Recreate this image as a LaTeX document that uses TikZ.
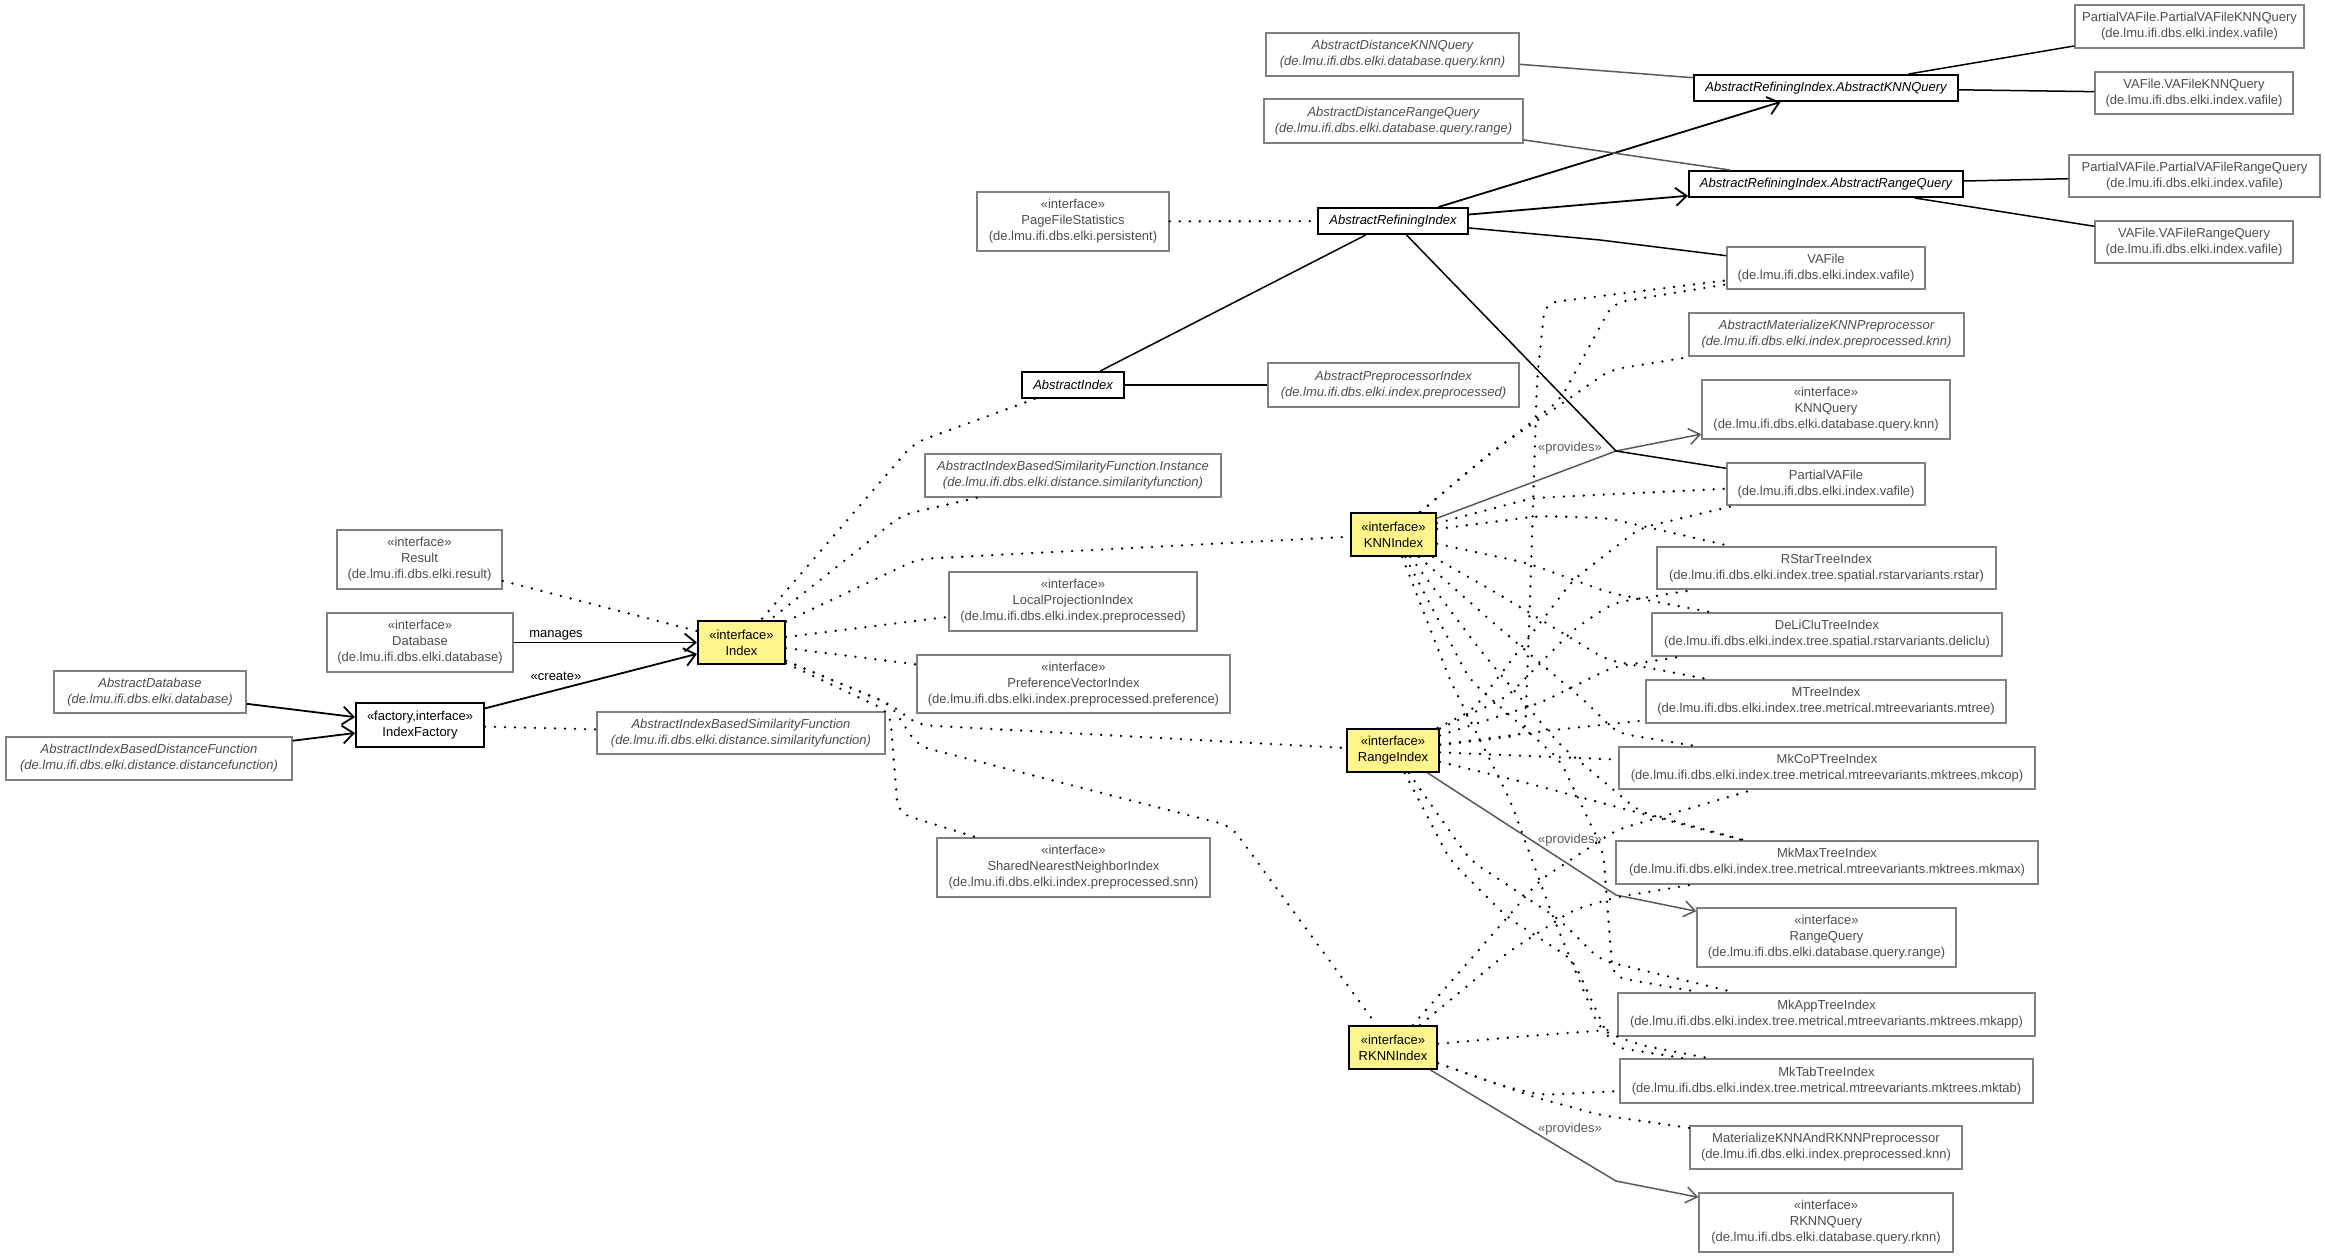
\documentclass[tikz,border=0pt]{standalone}
\usepackage{fontspec}
\setmainfont{Liberation Sans}
\usetikzlibrary{arrows.meta}
\definecolor{ifacefill}{RGB}{255,245,140}
\tikzset{
  cls/.style={draw=black!50, line width=1.5pt, text=black!70, align=center, inner sep=0pt, font=\fontsize{13}{16}\selectfont},
  abscls/.style={cls, font=\fontsize{13}{16}\selectfont\itshape},
  maincls/.style={cls, draw=black, line width=2pt, text=black},
  absmain/.style={maincls, font=\fontsize{13}{16}\selectfont\itshape},
  iface/.style={maincls, fill=ifacefill},
  real/.style={line width=2.6pt, line cap=round, dash pattern=on 0pt off 10pt, rounded corners=12pt},
  assoc/.style={line width=1.8pt, -{Straight Barb[length=11pt,width=18pt]}},
  prov/.style={line width=1.5pt, draw=black!65, -{Straight Barb[length=11pt,width=16pt]}},
  gen/.style={line width=1.5pt},
  gengray/.style={gen, draw=black!65},
  lbl/.style={font=\fontsize{13}{16}\selectfont, inner sep=1pt},
}

\begin{document}
\begin{tikzpicture}[x=1pt, y=-1pt]
  \useasboundingbox (0,0) rectangle (2325,1257);

  % left part
  \node [cls, minimum width=165pt, minimum height=59pt] (result) at (419.5,559.5) {«interface»\\Result\\(de.lmu.ifi.dbs.elki.result)};
  \node [cls, minimum width=186pt, minimum height=59pt] (database) at (420,642.5) {«interface»\\Database\\(de.lmu.ifi.dbs.elki.database)};
  \node [abscls, minimum width=192pt, minimum height=42pt] (absdatabase) at (150,692) {AbstractDatabase\\(de.lmu.ifi.dbs.elki.database)};
  \node [abscls, minimum width=286pt, minimum height=43pt] (idxdistfn) at (149,758.5) {AbstractIndexBasedDistanceFunction\\(de.lmu.ifi.dbs.elki.distance.distancefunction)};
  \node [maincls, minimum width=128pt, minimum height=44pt] (idxfactory) at (420,725) {«factory,interface»\\IndexFactory};
  \node [abscls, minimum width=288pt, minimum height=42pt] (idxsimfn) at (741,733) {AbstractIndexBasedSimilarityFunction\\(de.lmu.ifi.dbs.elki.distance.similarityfunction)};
  \node [iface, minimum width=87pt, minimum height=43pt] (index) at (741.5,642.5) {«interface»\\Index};

  % middle column
  \node [cls, minimum width=192pt, minimum height=59pt] (pagestats) at (1073,221.5) {«interface»\\PageFileStatistics\\(de.lmu.ifi.dbs.elki.persistent)};
  \node [absmain, minimum width=102pt, minimum height=26pt] (absindex) at (1073,385) {AbstractIndex};
  \node [abscls, minimum width=296pt, minimum height=43pt] (simfninst) at (1073,475.5) {AbstractIndexBasedSimilarityFunction.Instance\\(de.lmu.ifi.dbs.elki.distance.similarityfunction)};
  \node [cls, minimum width=248pt, minimum height=59pt] (localproj) at (1073,601.5) {«interface»\\LocalProjectionIndex\\(de.lmu.ifi.dbs.elki.index.preprocessed)};
  \node [cls, minimum width=313pt, minimum height=58pt] (prefvector) at (1073.5,684) {«interface»\\PreferenceVectorIndex\\(de.lmu.ifi.dbs.elki.index.preprocessed.preference)};
  \node [cls, minimum width=273pt, minimum height=59pt] (snnindex) at (1073.5,867.5) {«interface»\\SharedNearestNeighborIndex\\(de.lmu.ifi.dbs.elki.index.preprocessed.snn)};

  \node [abscls, minimum width=253pt, minimum height=43pt] (distknnq) at (1392.5,54.5) {AbstractDistanceKNNQuery\\(de.lmu.ifi.dbs.elki.database.query.knn)};
  \node [abscls, minimum width=259pt, minimum height=44pt] (distrangeq) at (1393.5,121) {AbstractDistanceRangeQuery\\(de.lmu.ifi.dbs.elki.database.query.range)};
  \node [absmain, minimum width=150pt, minimum height=26pt] (refidx) at (1393,221) {AbstractRefiningIndex};
  \node [abscls, minimum width=251pt, minimum height=44pt] (abspreproc) at (1393.5,385) {AbstractPreprocessorIndex\\(de.lmu.ifi.dbs.elki.index.preprocessed)};
  \node [iface, minimum width=85pt, minimum height=43pt] (knnindex) at (1393.5,534.5) {«interface»\\KNNIndex};
  \node [iface, minimum width=92pt, minimum height=43pt] (rangeindex) at (1393,750.5) {«interface»\\RangeIndex};
  \node [iface, minimum width=88pt, minimum height=43pt] (rknnindex) at (1393,1047.5) {«interface»\\RKNNIndex};

  % right column
  \node [absmain, minimum width=264pt, minimum height=26pt] (refknnq) at (1826,88) {AbstractRefiningIndex.AbstractKNNQuery};
  \node [absmain, minimum width=274pt, minimum height=26pt] (refrangeq) at (1826,184) {AbstractRefiningIndex.AbstractRangeQuery};
  \node [cls, minimum width=198pt, minimum height=42pt] (vafile) at (1826,268) {VAFile\\(de.lmu.ifi.dbs.elki.index.vafile)};
  \node [abscls, minimum width=275pt, minimum height=43pt] (absmatknn) at (1826.5,334.5) {AbstractMaterializeKNNPreprocessor\\(de.lmu.ifi.dbs.elki.index.preprocessed.knn)};
  \node [cls, minimum width=248pt, minimum height=59pt] (knnquery) at (1826,409.5) {«interface»\\KNNQuery\\(de.lmu.ifi.dbs.elki.database.query.knn)};
  \node [cls, minimum width=198pt, minimum height=42pt] (pvafile) at (1826,484) {PartialVAFile\\(de.lmu.ifi.dbs.elki.index.vafile)};
  \node [cls, minimum width=339pt, minimum height=42pt] (rstar) at (1826.5,568) {RStarTreeIndex\\(de.lmu.ifi.dbs.elki.index.tree.spatial.rstarvariants.rstar)};
  \node [cls, minimum width=350pt, minimum height=43pt] (deliclu) at (1827,634.5) {DeLiCluTreeIndex\\(de.lmu.ifi.dbs.elki.index.tree.spatial.rstarvariants.deliclu)};
  \node [cls, minimum width=360pt, minimum height=43pt] (mtree) at (1826,701.5) {MTreeIndex\\(de.lmu.ifi.dbs.elki.index.tree.metrical.mtreevariants.mtree)};
  \node [cls, minimum width=416pt, minimum height=42pt] (mkcop) at (1827,768) {MkCoPTreeIndex\\(de.lmu.ifi.dbs.elki.index.tree.metrical.mtreevariants.mktrees.mkcop)};
  \node [cls, minimum width=422pt, minimum height=43pt] (mkmax) at (1827,862.5) {MkMaxTreeIndex\\(de.lmu.ifi.dbs.elki.index.tree.metrical.mtreevariants.mktrees.mkmax)};
  \node [cls, minimum width=259pt, minimum height=59pt] (rangequery) at (1826.5,937.5) {«interface»\\RangeQuery\\(de.lmu.ifi.dbs.elki.database.query.range)};
  \node [cls, minimum width=417pt, minimum height=43pt] (mkapp) at (1826.5,1014.5) {MkAppTreeIndex\\(de.lmu.ifi.dbs.elki.index.tree.metrical.mtreevariants.mktrees.mkapp)};
  \node [cls, minimum width=413pt, minimum height=44pt] (mktab) at (1826.5,1081) {MkTabTreeIndex\\(de.lmu.ifi.dbs.elki.index.tree.metrical.mtreevariants.mktrees.mktab)};
  \node [cls, minimum width=272pt, minimum height=43pt] (matknnrknn) at (1826,1147.5) {MaterializeKNNAndRKNNPreprocessor\\(de.lmu.ifi.dbs.elki.index.preprocessed.knn)};
  \node [cls, minimum width=254pt, minimum height=59pt] (rknnquery) at (1826,1222.5) {«interface»\\RKNNQuery\\(de.lmu.ifi.dbs.elki.database.query.rknn)};

  \node [cls, minimum width=229pt, minimum height=43pt] (pvaknnq) at (2189.5,26.5) {PartialVAFile.PartialVAFileKNNQuery\\(de.lmu.ifi.dbs.elki.index.vafile)};
  \node [cls, minimum width=198pt, minimum height=42pt] (vaknnq) at (2194,93) {VAFile.VAFileKNNQuery\\(de.lmu.ifi.dbs.elki.index.vafile)};
  \node [cls, minimum width=251pt, minimum height=42pt] (pvarangeq) at (2194.5,176) {PartialVAFile.PartialVAFileRangeQuery\\(de.lmu.ifi.dbs.elki.index.vafile)};
  \node [cls, minimum width=198pt, minimum height=42pt] (varangeq) at (2194,242) {VAFile.VAFileRangeQuery\\(de.lmu.ifi.dbs.elki.index.vafile)};

  % labels
  \node [lbl] (lmanages) at (556,635) {manages};
  \node [lbl] (lcreate) at (556,676) {«create»};
  \node [lbl, text=black!65] (lprovknn) at (1570,448) {«provides»};
  \node [lbl, text=black!65] (lprovrange) at (1570,840) {«provides»};
  \node [lbl, text=black!65] (lprovrknn) at (1570,1129) {«provides»};

  % associations
  \draw [assoc] (database) -- (index);
  \draw [assoc] (idxfactory) -- (index);
  \draw [assoc] (absdatabase) -- (idxfactory);
  \draw [assoc] (idxdistfn) -- (idxfactory);
  \draw [assoc] (refidx) -- (refknnq);
  \draw [assoc] (refidx) -- (refrangeq);
  \draw [prov] (knnindex) -- (1616,451) -- (knnquery);
  \draw [prov] (rangeindex) -- (1616,895) -- (rangequery);
  \draw [prov] (rknnindex) -- (1616,1181) -- (rknnquery);

  % plain lines
  \draw [gen] (absindex) -- (refidx);
  \draw [gen] (absindex) -- (abspreproc);
  \draw [gen] (refidx) -- (1600,240) -- (vafile);
  \draw [gen] (refidx) -- (1616,451) -- (pvafile);
  \draw [gengray] (distknnq) -- (refknnq);
  \draw [gengray] (distrangeq) -- (refrangeq);
  \draw [gen] (refknnq) -- (pvaknnq);
  \draw [gen] (refknnq) -- (vaknnq);
  \draw [gen] (refrangeq) -- (pvarangeq);
  \draw [gen] (refrangeq) -- (varangeq);

  % dotted lines round Index
  \draw [real] (result) -- (index);
  \draw [real] (idxfactory) -- (idxsimfn);
  \draw [real] (pagestats) -- (refidx);
  \draw [real] (absindex) -- (914,443) -- (index);
  \draw [real] (simfninst) -- (902,515) -- (index);
  \draw [real] (index) -- (918,559) -- (knnindex);
  \draw [real] (index) -- (localproj);
  \draw [real] (index) -- (prefvector);
  \draw [real] (index) -- (890,704) -- (918,725) -- (rangeindex);
  \draw [real] (index) -- (890,704) -- (918,746) -- (1231,826) -- (rknnindex);
  \draw [real] (index) -- (890,712) -- (898,813) -- (snnindex);

  % dotted lines to KNNIndex
  \draw [real] (knnindex) -- (1480,462) -- (1560,400) -- (1613,303) -- (vafile);
  \draw [real] (knnindex) -- (1490,453) -- (1557,407) -- (1610,370) -- (absmatknn);
  \draw [real] (knnindex) -- (1533,498) -- (pvafile);
  \draw [real] (knnindex) -- (1540,516) -- (1607,518) -- (rstar);
  \draw [real] (knnindex) -- (1527,563) -- (1610,593) -- (deliclu);
  \draw [real] (knnindex) -- (1500,595) -- (1607,660) -- (mtree);
  \draw [real] (knnindex) -- (1490,620) -- (1587,703) -- (1617,733) -- (mkcop);
  \draw [real] (knnindex) -- (1480,650) -- (1560,745) -- (1640,812) -- (mkmax);
  \draw [real] (knnindex) -- (1470,680) -- (1560,760) -- (1603,850) -- (1613,977) -- (mkapp);
  \draw [real] (knnindex) -- (1450,680) -- (1510,800) -- (1553,917) -- (1600,1030) -- (1640,1045) -- (mktab);

  % dotted lines to RangeIndex
  \draw [real] (rangeindex) -- (1525,735) -- (1530,600) -- (1537,380) -- (1545,303) -- (vafile);
  \draw [real] (rangeindex) -- (1473,710) -- (1527,640) -- (1573,580) -- (1640,528) -- (pvafile);
  \draw [real] (rangeindex) -- (1507,697) -- (1573,630) -- (1613,603) -- (rstar);
  \draw [real] (rangeindex) -- (1540,703) -- (1613,667) -- (deliclu);
  \draw [real] (rangeindex) -- (1553,730) -- (mtree);
  \draw [real] (rangeindex) -- (mkcop);
  \draw [real] (rangeindex) -- (1527,783) -- (1617,807) -- (mkmax);
  \draw [real] (rangeindex) -- (1470,860) -- (1560,920) -- (1600,960) -- (mkapp);
  \draw [real] (rangeindex) -- (1450,860) -- (1507,917) -- (1573,960) -- (1613,1047) -- (mktab);

  % dotted lines to RKNNIndex
  \draw [real] (rknnindex) -- (1470,960) -- (1540,880) -- (1616,830) -- (mkcop);
  \draw [real] (rknnindex) -- (1507,953) -- (1573,910) -- (1617,897) -- (mkmax);
  \draw [real] (rknnindex) -- (1540,1035) -- (mkapp);
  \draw [real] (rknnindex) -- (1500,1085) -- (1540,1095) -- (mktab);
  \draw [real] (rknnindex) -- (1534,1097) -- (1600,1115) -- (matknnrknn);
\end{tikzpicture}
\end{document}
